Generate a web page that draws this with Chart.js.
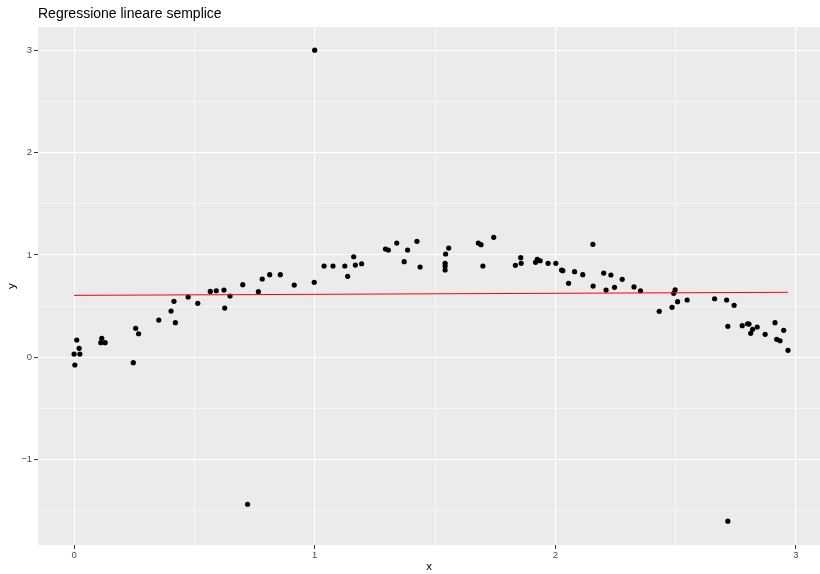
<!DOCTYPE html>
<html>
<head>
<meta charset="utf-8">
<script src="https://cdn.jsdelivr.net/npm/chart.js@4/dist/chart.umd.min.js"></script>
<style>
  html, body { margin: 0; padding: 0; background: #ffffff; }
  #wrap { width: 820px; height: 574px; position: relative; }
</style>
</head>
<body>
<div id="wrap"><canvas id="c" width="820" height="574"></canvas></div>
<script>
// Observations
const xValues = [
  0.000, 0.003, 0.011, 0.021, 0.024, 0.111, 0.115, 0.129, 0.246, 0.256,
  0.268, 0.352, 0.403, 0.415, 0.421, 0.474, 0.514, 0.566, 0.591, 0.623,
  0.626, 0.648, 0.701, 0.721, 0.766, 0.782, 0.813, 0.857, 0.915, 0.998,
  1.000, 1.039, 1.076, 1.125, 1.137, 1.162, 1.169, 1.195, 1.294, 1.306,
  1.341, 1.372, 1.386, 1.425, 1.438, 1.542, 1.542, 1.542, 1.544, 1.557,
  1.680, 1.691, 1.699, 1.744, 1.834, 1.856, 1.858, 1.918, 1.925, 1.937,
  1.970, 2.002, 2.026, 2.031, 2.055, 2.080, 2.114, 2.156, 2.157, 2.201,
  2.211, 2.231, 2.246, 2.278, 2.327, 2.354, 2.432, 2.485, 2.492, 2.498,
  2.508, 2.548, 2.662, 2.712, 2.717, 2.717, 2.743, 2.777, 2.799, 2.805,
  2.812, 2.820, 2.839, 2.872, 2.913, 2.920, 2.934, 2.949, 2.967
];
const yValues = [
  0.032, -0.075, 0.169, 0.088, 0.032, 0.143, 0.185, 0.143, -0.052, 0.283,
  0.230, 0.364, 0.452, 0.547, 0.338, 0.589, 0.527, 0.644, 0.650, 0.657,
  0.481, 0.599, 0.709, -1.435, 0.641, 0.765, 0.807, 0.807, 0.706, 0.732,
  3.000, 0.892, 0.892, 0.892, 0.791, 0.982, 0.901, 0.914, 1.058, 1.048,
  1.116, 0.934, 1.048, 1.133, 0.882, 0.918, 0.892, 0.853, 1.009, 1.067,
  1.116, 1.100, 0.892, 1.172, 0.898, 0.973, 0.918, 0.928, 0.957, 0.943,
  0.918, 0.918, 0.853, 0.846, 0.723, 0.836, 0.807, 1.104, 0.696, 0.823,
  0.657, 0.804, 0.684, 0.762, 0.687, 0.650, 0.449, 0.488, 0.625, 0.660,
  0.543, 0.560, 0.572, 0.560, 0.303, -1.600, 0.508, 0.309, 0.328, 0.325,
  0.234, 0.273, 0.296, 0.225, 0.338, 0.176, 0.162, 0.264, 0.068
];

// Fitted regression line (endpoints over the observed x range)
const fitX = [0.000, 2.967];
const fitY = [0.605, 0.635];

// Axis grid positions (major at integers, minor halfway)
const xGrid = [0, 0.5, 1, 1.5, 2, 2.5, 3];
const yGrid = [-1.5, -1, -0.5, 0, 0.5, 1, 1.5, 2, 2.5, 3];

const titleText = 'Regressione lineare semplice';
const FONT = "'Liberation Sans', Arial, Helvetica, sans-serif";

const isMajor = v => Math.abs(v - Math.round(v)) < 1e-9;
const fmt = v => (v < 0 ? '\u2212' + Math.abs(v) : String(v));

const points = xValues.map((x, i) => ({ x: x, y: yValues[i] }));
const fitLine = fitX.map((x, i) => ({ x: x, y: fitY[i] }));

// Grey panel background plus the plot title
const panelPlugin = {
  id: 'panel',
  beforeDraw(chart) {
    const { ctx, chartArea: a } = chart;
    ctx.save();
    ctx.fillStyle = '#ffffff';
    ctx.fillRect(0, 0, chart.width, chart.height);
    ctx.fillStyle = '#EBEBEB';
    ctx.fillRect(a.left, a.top, a.right - a.left, a.bottom - a.top);
    ctx.restore();
  },
  afterDraw(chart) {
    const { ctx, chartArea: a } = chart;
    ctx.save();
    ctx.fillStyle = '#000000';
    ctx.font = '14px ' + FONT;
    ctx.textAlign = 'left';
    ctx.textBaseline = 'middle';
    ctx.fillText(titleText, a.left, 14);
    ctx.restore();
  }
};

const gridCommon = {
  color: '#ffffff',
  lineWidth: c => (isMajor(c.tick.value) ? 1.1 : 0.55),
  drawTicks: true,
  tickLength: 4,
  tickWidth: 1,
  tickColor: c => (isMajor(c.tick.value) ? '#333333' : 'rgba(0,0,0,0)')
};

new Chart(document.getElementById('c'), {
  type: 'scatter',
  data: {
    datasets: [
      {
        type: 'line',
        data: fitLine,
        borderColor: '#FF0000',
        borderWidth: 1,
        pointRadius: 0,
        fill: false,
        order: 0
      },
      {
        type: 'scatter',
        data: points,
        backgroundColor: '#000000',
        borderColor: '#000000',
        borderWidth: 0,
        pointRadius: 2.6,
        order: 1
      }
    ]
  },
  options: {
    responsive: false,
    animation: false,
    events: [],
    layout: { autoPadding: false, padding: { top: 27, left: 0, right: 0, bottom: 0 } },
    plugins: {
      legend: { display: false },
      tooltip: { enabled: false },
      title: { display: false }
    },
    scales: {
      x: {
        type: 'linear',
        min: -0.15,
        max: 3.1,
        afterBuildTicks: s => { s.ticks = xGrid.map(v => ({ value: v })); },
        afterFit: s => { s.height = 29; s.paddingLeft = 0; s.paddingRight = 0; },
        border: { display: false },
        grid: gridCommon,
        ticks: {
          autoSkip: false,
          maxRotation: 0,
          padding: 1,
          color: '#4D4D4D',
          font: { family: FONT, size: 9.5 },
          callback: v => (isMajor(v) ? fmt(v) : '')
        },
        title: {
          display: true,
          text: 'x',
          color: '#000000',
          font: { family: FONT, size: 11.5 },
          padding: { top: 0, bottom: 0 }
        }
      },
      y: {
        type: 'linear',
        min: -1.833,
        max: 3.226,
        afterBuildTicks: s => { s.ticks = yGrid.map(v => ({ value: v })); },
        afterFit: s => { s.width = 38; s.paddingTop = 0; s.paddingBottom = 0; },
        border: { display: false },
        grid: gridCommon,
        ticks: {
          autoSkip: false,
          padding: 2,
          color: '#4D4D4D',
          font: { family: FONT, size: 9.5 },
          callback: v => (isMajor(v) ? fmt(v) : '')
        },
        title: {
          display: true,
          text: 'y',
          color: '#000000',
          font: { family: FONT, size: 11.5 },
          padding: { top: 5, bottom: 0 }
        }
      }
    }
  },
  plugins: [panelPlugin]
});
</script>
</body>
</html>
